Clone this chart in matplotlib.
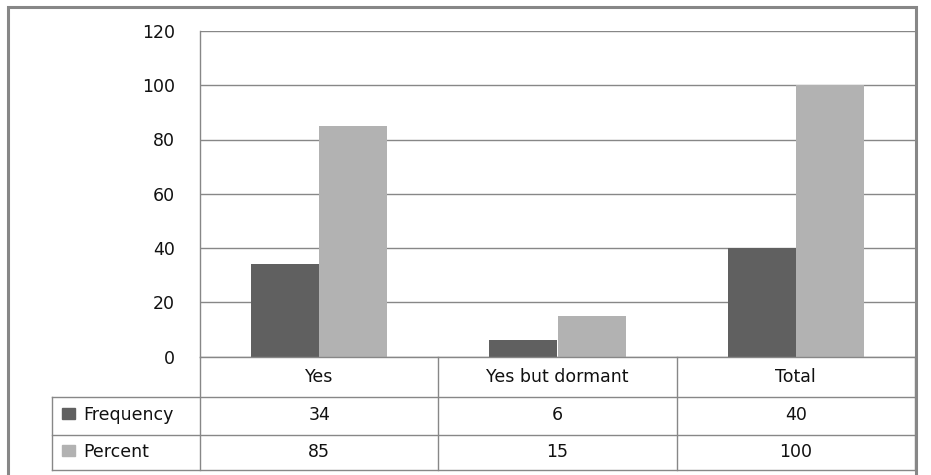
import numpy as np
import matplotlib.pyplot as plt
from matplotlib.patches import Rectangle

# ---------------------------------------------------------------
# data
# ---------------------------------------------------------------
categories = ["Yes", "Yes but dormant", "Total"]
series_names = ["Frequency", "Percent"]
frequency = [34, 6, 40]
percent = [85, 15, 100]
yticks = [0, 20, 40, 60, 80, 100, 120]

DARK = "#606060"
LIGHT = "#b2b2b2"
LINE = "#878787"
FS = 12.5

W, H = 931, 475
fig = plt.figure(figsize=(W / 100, H / 100), dpi=100)
plt.rcParams["font.family"] = "DejaVu Sans"


def fx(px):
    return px / W


def fy(py):
    return 1 - py / H


# ---------------------------------------------------------------
# bar chart
# ---------------------------------------------------------------
x0, x1, ytop, yzero = 200, 915, 31, 356.5
ax = fig.add_axes([fx(x0), fy(yzero), fx(x1 - x0), fy(ytop) - fy(yzero)])
x = np.arange(len(categories))
bw = 0.286
ax.bar(x - bw / 2, frequency, bw, color=DARK, zorder=3)
ax.bar(x + bw / 2, percent, bw, color=LIGHT, zorder=3)
ax.set_xlim(-0.5, len(categories) - 0.5)
ax.set_ylim(0, 120)
ax.set_yticks(yticks)
ax.set_xticks([])
ax.grid(axis="y", color=LINE, lw=1.0, zorder=0)
ax.tick_params(axis="y", length=0, pad=18, labelsize=FS, labelcolor="#111111")
for s in ["top", "right", "bottom"]:
    ax.spines[s].set_visible(False)
ax.spines["left"].set_color(LINE)
ax.spines["left"].set_linewidth(1.0)

# ---------------------------------------------------------------
# data table under the chart
# ---------------------------------------------------------------
tx0, tbot = 52, 470
unit = (x1 - x0) / len(categories)
left_units = (x0 - tx0) / unit
tab = fig.add_axes([fx(tx0), fy(tbot), fx(x1 - tx0), fy(yzero) - fy(tbot)])
tab.set_xlim(-0.5 - left_units, len(categories) - 0.5)
row_edges = [0, 40, 78, 113.5]  # header, frequency, percent
tab.set_ylim(row_edges[-1], 0)
tab.axis("off")

lk = dict(color=LINE, lw=1.0, clip_on=False)
xl = -0.5 - left_units
xr = len(categories) - 0.5
# horizontal lines
tab.plot([-0.5, xr], [0, 0], **lk)
for yy in row_edges[1:]:
    tab.plot([xl, xr], [yy, yy], **lk)
# vertical lines
tab.plot([xl, xl], [row_edges[1], row_edges[-1]], **lk)
for i in range(len(categories) + 1):
    tab.plot([i - 0.5, i - 0.5], [0, row_edges[-1]], **lk)

tk = dict(ha="center", va="center", fontsize=FS, color="#111111")
for i, c in enumerate(categories):
    tab.text(i, (row_edges[0] + row_edges[1]) / 2 + 1, c, **tk)
for r, (name, vals, col) in enumerate(zip(series_names, [frequency, percent],
                                          [DARK, LIGHT])):
    yc = (row_edges[r + 1] + row_edges[r + 2]) / 2
    for i, v in enumerate(vals):
        tab.text(i, yc, str(v), **tk)
    # legend key + name
    cy = yzero + yc - 2
    fig.patches.append(Rectangle((fx(62), fy(cy + 5.5)), fx(13), fy(0) - fy(11),
                                 transform=fig.transFigure, color=col))
    fig.text(fx(83), fy(yzero + yc), name, ha="left", va="center",
             fontsize=FS, color="#111111")

# ---------------------------------------------------------------
# outer frame
# ---------------------------------------------------------------
fig.patches.append(Rectangle((fx(8), fy(480)), fx(916 - 8), fy(7) - fy(480),
                             transform=fig.transFigure, fill=False,
                             edgecolor=LINE, lw=2.2, clip_on=False))

fig.savefig("out.png", dpi=100)
